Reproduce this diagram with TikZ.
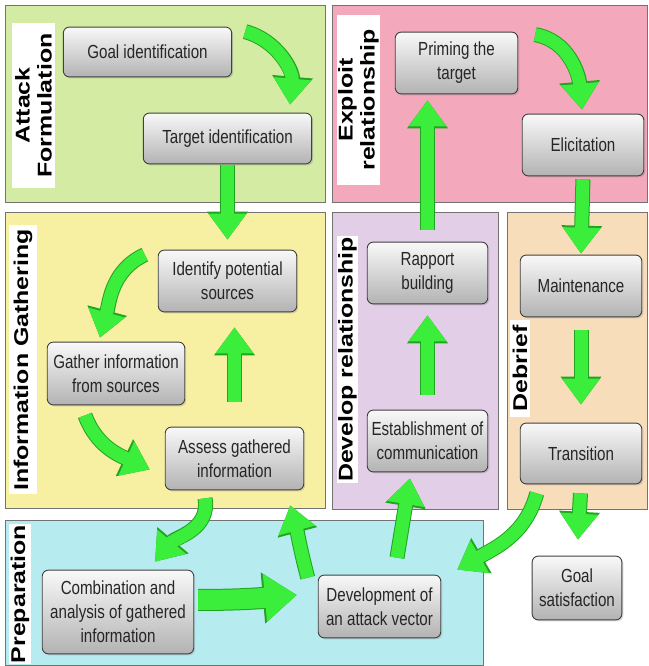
\documentclass[tikz,border=0pt]{standalone}
\usepackage{fontspec}
\setmainfont{Liberation Sans}[FakeStretch=0.8]
\newfontfamily\phasefont{Liberation Sans}[FakeStretch=1.25]
\usetikzlibrary{arrows.meta, calc, shadows}

\definecolor{formgreen}{HTML}{D3EBA2}
\definecolor{exploitpink}{HTML}{F4A8BB}
\definecolor{infoyellow}{HTML}{F7EFA2}
\definecolor{devlilac}{HTML}{E2CEE6}
\definecolor{debriefpeach}{HTML}{F7DDBA}
\definecolor{prepcyan}{HTML}{B6ECEF}
\definecolor{arrowgreen}{HTML}{3BEE3B}
\definecolor{arrowedge}{HTML}{22A322}

\tikzset{
    stage/.style={rectangle, rounded corners=6bp, draw=black!75, line width=0.9bp,
        top color=gray!5, bottom color=gray!60, align=center, inner sep=2bp,
        text=black!85, font=\fontsize{19}{24}\selectfont,
        drop shadow={opacity=0.3, shadow xshift=1.5bp, shadow yshift=-1.5bp}},
    phase/.style={draw=black!55, line width=0.9bp},
    phaselabel/.style={fill=white, rotate=90, align=center, inner sep=1bp,
        font=\phasefont\bfseries\fontsize{20}{22}\selectfont},
    flow/.style={draw=arrowgreen, line width=13bp, -{Triangle[width=36bp,length=26bp]},
        preaction={draw=arrowedge, line width=15bp, -{Triangle[width=39bp,length=28bp]}}},
    bigflow/.style={draw=arrowgreen, line width=20bp, -{Triangle[width=46bp,length=32bp]},
        preaction={draw=arrowedge, line width=22bp, -{Triangle[width=49bp,length=34bp]}}},
}

\begin{document}
\begin{tikzpicture}[x=1bp, y=1bp]

    % Page
    \fill[white] (0,0) rectangle (649,666);
    \useasboundingbox (0,0) rectangle (649,666);

    % Phase panels
    \foreach \xa/\ya/\xb/\yb/\col in {5/464/325/661/formgreen, 332/464/647/661/exploitpink,
        5/158/325/454/infoyellow, 332/157/498/454/devlilac,
        507/157/647/454/debriefpeach, 5/1/483/146/prepcyan}{
        \draw[phase, fill=\col] (\xa,\ya) rectangle (\xb,\yb);
    }

    % Phase labels
    \node[phaselabel, minimum width=165, minimum height=43] (formlabel)    at (33.5,560.5) {Attack\\Formulation};
    \node[phaselabel, minimum width=170, minimum height=43] (exploitlabel) at (358.5,566) {Exploit\\relationship};
    \node[phaselabel, minimum width=270, minimum height=28] (infolabel)    at (23,306) {Information Gathering};
    \node[phaselabel, minimum width=245, minimum height=21] (devlabel)     at (347.5,306.5) {Develop relationship};
    \node[phaselabel, minimum width=97,  minimum height=20] (debrieflabel) at (520,297.5) {Debrief};
    \node[phaselabel, minimum width=138, minimum height=22] (preplabel)    at (20,72) {Preparation};

    % Stages
    \node[stage, minimum width=169, minimum height=50] (goal)      at (147.5,614) {Goal identification};
    \node[stage, minimum width=169, minimum height=51] (target)    at (227.5,527.5) {Target identification};
    \node[stage, minimum width=123, minimum height=62] (priming)   at (456.5,603) {Priming the\\target};
    \node[stage, minimum width=122, minimum height=62] (elicit)    at (583,521) {Elicitation};
    \node[stage, minimum width=139, minimum height=62] (identify)  at (227.5,385) {Identify potential\\sources};
    \node[stage, minimum width=138, minimum height=63] (gather)    at (116,292.5) {Gather information\\from sources};
    \node[stage, minimum width=139, minimum height=63] (assess)    at (234.5,207.5) {Assess gathered\\information};
    \node[stage, minimum width=121, minimum height=62] (rapport)   at (427.5,393) {Rapport\\building};
    \node[stage, minimum width=121, minimum height=62] (establish) at (427.5,225) {Establishment of\\communication};
    \node[stage, minimum width=122, minimum height=62] (maint)     at (581,380) {Maintenance};
    \node[stage, minimum width=122, minimum height=61] (trans)     at (581,212.5) {Transition};
    \node[stage, minimum width=152, minimum height=84] (combo)     at (118,54) {Combination and\\analysis of gathered\\information};
    \node[stage, minimum width=123, minimum height=63] (dev)       at (379.5,59.5) {Development of\\an attack vector};
    \node[stage, minimum width=90,  minimum height=64] (goalsat)   at (577,78) {Goal\\satisfaction};

    % Flow, attack formulation
    \draw[flow] ($(goal.north east)+(13,-5)$) to[out=-15, in=85] ($(target.north east)+(-22,8)$);
    \draw[flow, shorten <=1bp, shorten >=10bp] (target.south) -- (identify.north);

    % Flow, information gathering
    \draw[flow] ($(identify.north west)+(-13,-5)$) to[out=205, in=75] ($(gather.north)+(-16,4)$);
    \draw[flow] ($(gather.south)+(-31,-10)$) to[out=-70, in=155] ($(assess.west)+(-15,-11)$);
    \draw[flow, shorten <=25bp, shorten >=15bp] (assess.north) -- (assess.north |- identify.south);

    % Flow, preparation
    \draw[flow] ($(assess.south)+(-29.5,-8)$) to[out=-80, in=50] ($(combo.north)+(37,8)$);
    \draw[bigflow] ($(combo.east)+(4,12)$) to[out=0, in=185] ($(dev.west)+(-21,11.5)$);
    \draw[flow] ($(dev.north west)+(-10,-3)$) to[out=105, in=-75] ($(assess.south east)+(-14,-15)$);
    \draw[flow] ($(dev.north)+(17.5,17)$) -- ($(establish.south)+(-17.5,-6)$);

    % Flow, develop and exploit relationship
    \draw[flow, shorten <=15bp, shorten >=11bp] (establish.north) -- (rapport.south);
    \draw[flow, shorten <=12bp, shorten >=6bp] (rapport.north) -- (rapport.north |- priming.south);
    \draw[flow] ($(priming.north east)+(17,-3)$) to[out=-10, in=95] ($(elicit.north)+(-1,4)$);
    \draw[flow, shorten <=3bp, shorten >=1bp] (elicit.south) -- (maint.north);

    % Flow, debrief
    \draw[flow, shorten <=13bp, shorten >=18bp] (maint.south) -- (trans.north);
    \draw[flow, shorten <=9bp, shorten >=16bp] (trans.south) -- (goalsat.north);
    \draw[flow] ($(trans.south west)+(17,-9)$) to[out=-105, in=30] ($(dev.north east)+(16,5)$);

\end{tikzpicture}
\end{document}
